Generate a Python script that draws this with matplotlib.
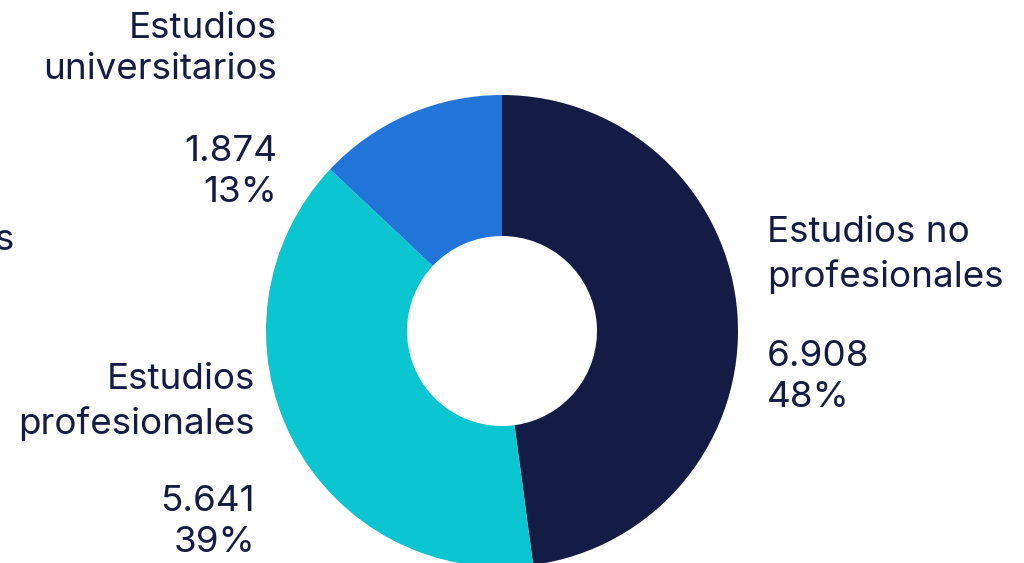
import matplotlib.pyplot as plt

# -------------------------------------------------
# DATA
# -------------------------------------------------

categories = [
    "Estudios no\nprofesionales",
    "Estudios\nprofesionales",
    "Estudios\nuniversitarios",
]
values = [6908, 5641, 1874]
colors = ["#141C45", "#0BC5D0", "#2174D8"]

text_color = "#141C45"
total = sum(values)


def fmt_value(v):
    return f"{v:,}".replace(",", ".")


def fmt_pct(v):
    return f"{round(100 * v / total)}%"


# -------------------------------------------------
# FIGURE (axes in pixel units, y measured from bottom)
# -------------------------------------------------

W, H = 1024, 563
fig = plt.figure(figsize=(W / 100, H / 100), dpi=100)
ax = fig.add_axes([0, 0, 1, 1])

plt.rcParams["font.family"] = ["Inter", "DejaVu Sans"]

cx, cy = 502, H - 331
outer = 236
inner = 95

ax.pie(
    values,
    colors=colors,
    startangle=90,
    counterclock=False,
    center=(cx, cy),
    radius=outer,
    frame=True,
    wedgeprops=dict(width=outer - inner, linewidth=0),
)
ax.set_xlim(0, W)
ax.set_ylim(0, H)
ax.set_aspect("equal")
ax.axis("off")

# -------------------------------------------------
# LABELS
# -------------------------------------------------

# (x, label-block centre, value-block centre, alignment) in pixel coords
label_pos = [
    (767, 255, 377, "left"),
    (255, 402, 522, "right"),
    (277, 49, 172, "right"),
]

fs = 26.5
ls = 1.33
for cat, val, (x, ly, vy, ha) in zip(categories, values, label_pos):
    ax.text(x, H - ly, cat, ha=ha, va="center", fontsize=fs,
            color=text_color, linespacing=ls)
    ax.text(x, H - vy, fmt_value(val) + "\n" + fmt_pct(val), ha=ha,
            va="center", fontsize=fs, color=text_color, linespacing=ls)

# clipped label from a neighbouring chart at the left edge
ax.text(15, H - 240, "Estudios", ha="right", va="center", fontsize=fs,
        color=text_color)

fig.savefig("out.png", dpi=100)
